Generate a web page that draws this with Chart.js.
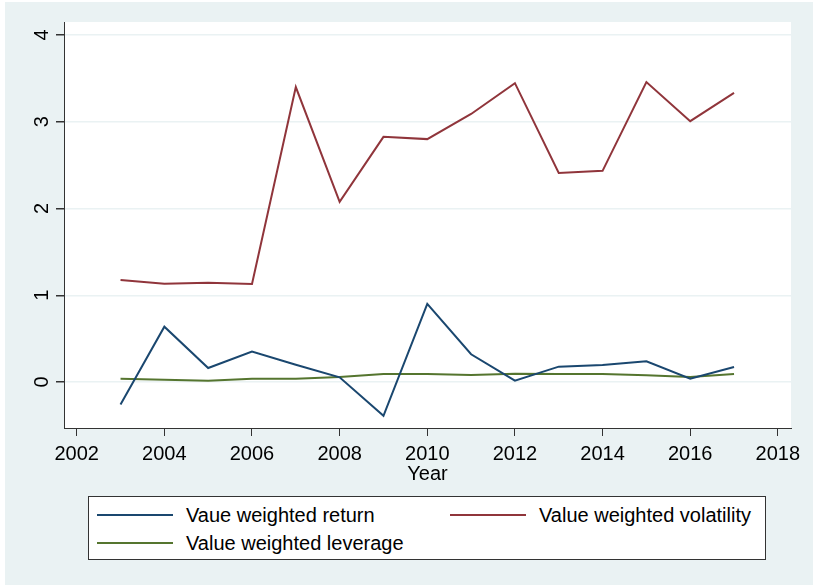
<!DOCTYPE html>
<html>
<head>
<meta charset="utf-8">
<script src="https://cdn.jsdelivr.net/npm/chart.js@4"></script>
<style>
  html, body { margin: 0; padding: 0; background: #fff; }
  #wrap { position: relative; width: 813px; height: 586px; }
  #bg { position: absolute; left: 5px; top: 2px; width: 808px; height: 583px; background: #eaf2f3; }
  #chart { position: absolute; left: 0; top: 0; }
  #legend {
    position: absolute; left: 88px; top: 496px; width: 678px; height: 64px;
    background: #fff; border: 1px solid #333; box-sizing: border-box;
    font-family: "Liberation Sans", Arial, sans-serif; font-size: 20px; color: #000;
  }
  .item { position: absolute; height: 24px; line-height: 24px; white-space: nowrap; }
  .item .swatch { position: absolute; left: 0; top: 11px; width: 76px; height: 2px; }
  .item .label { position: absolute; left: 89px; top: 0; }
</style>
</head>
<body>
<div id="wrap">
  <div id="bg"></div>
  <canvas id="chart" width="813" height="586"></canvas>
  <div id="legend"></div>
</div>
<script>
const years = [2003, 2004, 2005, 2006, 2007, 2008, 2009, 2010, 2011, 2012, 2013, 2014, 2015, 2016, 2017];
const returnValues = [-0.26, 0.638, 0.161, 0.35, 0.2, 0.054, -0.39, 0.90, 0.32, 0.015, 0.177, 0.196, 0.238, 0.038, 0.173];
const volatilityValues = [1.176, 1.134, 1.145, 1.13, 3.40, 2.076, 2.826, 2.80, 3.09, 3.445, 2.41, 2.434, 3.457, 3.007, 3.333];
const leverageValues = [0.038, 0.027, 0.015, 0.038, 0.038, 0.058, 0.092, 0.092, 0.08, 0.095, 0.092, 0.092, 0.077, 0.058, 0.092];
const xTicks = [2002, 2004, 2006, 2008, 2010, 2012, 2014, 2016, 2018];
const yTicks = [0, 1, 2, 3, 4];

const series = [
  { label: 'Vaue weighted return', values: returnValues, color: '#1a476f' },
  { label: 'Value weighted volatility', values: volatilityValues, color: '#90353b' },
  { label: 'Value weighted leverage', values: leverageValues, color: '#55752f' },
];

const FONT = '"Liberation Sans", Arial, sans-serif';

// rotated y tick labels, Stata style
const yLabels = {
  id: 'yLabels',
  afterDraw(chart) {
    const scale = chart.scales.y;
    const ctx = chart.ctx;
    ctx.save();
    ctx.fillStyle = '#000';
    ctx.font = '20px ' + FONT;
    ctx.textAlign = 'center';
    ctx.textBaseline = 'middle';
    scale.ticks.forEach(t => {
      const y = scale.getPixelForValue(t.value);
      ctx.save();
      ctx.translate(42, y);
      ctx.rotate(-Math.PI / 2);
      ctx.fillText(String(t.value), 0, 0);
      ctx.restore();
    });
    ctx.restore();
  },
};

const plotBg = {
  id: 'plotBg',
  beforeDraw(chart) {
    const { ctx, chartArea: a } = chart;
    ctx.save();
    ctx.fillStyle = '#fff';
    ctx.fillRect(a.left, a.top, a.right - a.left, a.bottom - a.top);
    ctx.restore();
  },
};

new Chart(document.getElementById('chart'), {
  type: 'line',
  data: {
    datasets: series.map(s => ({
      label: s.label,
      data: years.map((y, i) => ({ x: y, y: s.values[i] })),
      borderColor: s.color,
      borderWidth: 2,
      pointRadius: 0,
      tension: 0,
    })),
  },
  options: {
    responsive: false,
    animation: false,
    layout: { padding: { left: 0, top: 22, right: 22, bottom: 100 } },
    plugins: { legend: { display: false }, tooltip: { enabled: false } },
    scales: {
      x: {
        type: 'linear',
        min: 2001.71,
        max: 2018.3,
        afterBuildTicks: s => { s.ticks = xTicks.map(v => ({ value: v })); },
        afterFit: s => { s.height = 58; },
        grid: { drawOnChartArea: false, tickLength: 8, tickColor: '#333', lineWidth: 1 },
        border: { color: '#333', width: 1 },
        ticks: {
          color: '#000', font: { family: FONT, size: 20 }, padding: 6, maxRotation: 0, autoSkip: false,
          callback: v => String(v),
        },
        title: { display: true, text: 'Year', color: '#000', font: { family: FONT, size: 20 }, padding: 0 },
      },
      y: {
        type: 'linear',
        min: -0.53,
        max: 4.15,
        afterBuildTicks: s => { s.ticks = yTicks.map(v => ({ value: v })); },
        afterFit: s => { s.width = 64; },
        grid: { color: '#eaf2f3', lineWidth: 1.5, tickLength: 8, tickColor: '#333' },
        border: { color: '#333', width: 1 },
        ticks: { display: false },
      },
    },
  },
  plugins: [plotBg, yLabels],
});

// legend box
const legend = document.getElementById('legend');
const slots = [
  { left: 8, top: 6 },
  { left: 361, top: 6 },
  { left: 8, top: 34 },
];
series.forEach((s, i) => {
  const el = document.createElement('div');
  el.className = 'item';
  el.style.left = slots[i].left + 'px';
  el.style.top = slots[i].top + 'px';
  el.innerHTML = '<span class="swatch" style="background:' + s.color + '"></span><span class="label">' + s.label + '</span>';
  legend.appendChild(el);
});
</script>
</body>
</html>
